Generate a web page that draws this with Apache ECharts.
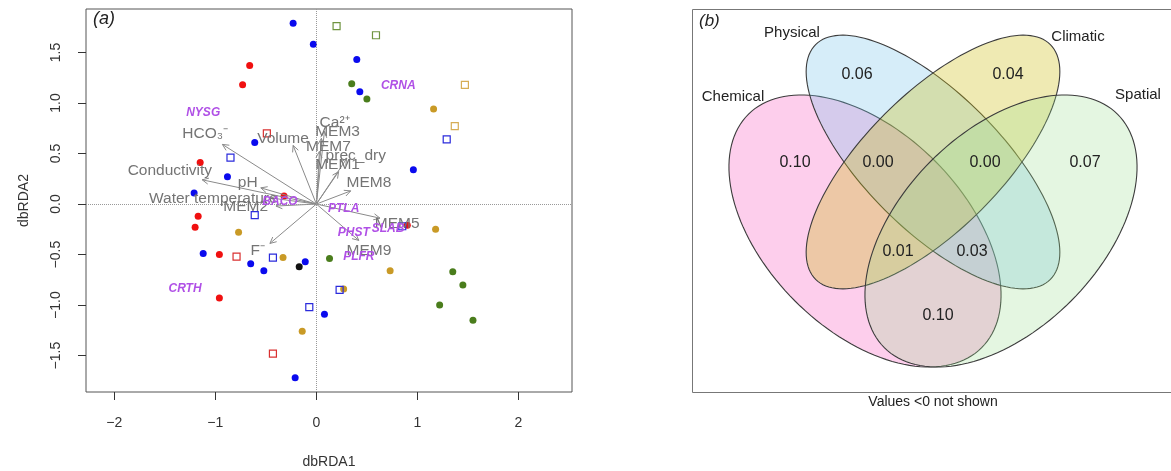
<!DOCTYPE html>
<html>
<head>
<meta charset="utf-8">
<script src="https://cdn.jsdelivr.net/npm/echarts@6/dist/echarts.min.js"></script>
<style>
html,body{margin:0;padding:0;background:#fff}
#main{width:1171px;height:471px}
</style>
</head>
<body>
<div id="main"></div>
<script>
// panel (a): site scores
var blueDots = [[-0.23,1.79],[-0.03,1.58],[-0.61,0.61],[-0.88,0.27],[-1.21,0.11],[-1.12,-0.49],[-0.65,-0.59],[-0.52,-0.66],[-0.11,-0.57],[0.08,-1.09],[-0.21,-1.72],[0.40,1.43],[0.43,1.11],[0.96,0.34]]
var redDots = [[-0.66,1.37],[-0.73,1.18],[-1.15,0.41],[-1.17,-0.12],[-1.20,-0.23],[-0.96,-0.50],[-0.96,-0.93],[-0.32,0.08],[0.90,-0.21]]
var goldDots = [[-0.77,-0.28],[-0.33,-0.53],[-0.14,-1.26],[1.16,0.94],[1.18,-0.25],[0.73,-0.66],[0.27,-0.84]]
var greenDots = [[0.35,1.19],[0.50,1.04],[0.13,-0.54],[1.35,-0.67],[1.45,-0.80],[1.22,-1.00],[1.55,-1.15]]
var blackDots = [[-0.17,-0.62]]
var redSquares = [[-0.49,0.70],[-0.79,-0.52],[-0.43,-1.48]]
var blueSquares = [[-0.85,0.46],[-0.61,-0.11],[-0.43,-0.53],[-0.07,-1.02],[0.23,-0.85],[1.29,0.64],[0.85,-0.22]]
var greenSquares = [[0.20,1.76],[0.59,1.67]]
var goldSquares = [[1.47,1.18],[1.37,0.77]]

// environmental vectors: arrow tips and label spots
var envNames = ['HCO\u2083\u207b','Conductivity','pH','Water temperature','MEM2','F\u207b','Volume','Ca\u00b2\u207a','MEM3','MEM7','prec_dry','MEM1','MEM8','MEM5','MEM9']
var envTips = [[-0.93,0.59],[-1.13,0.24],[-0.55,0.16],[-0.45,0.06],[-0.40,-0.02],[-0.46,-0.39],[-0.23,0.58],[0.08,0.72],[0.05,0.65],[0.03,0.52],[0.30,0.45],[0.22,0.32],[0.34,0.13],[0.63,-0.14],[0.42,-0.36]]
var envLabelAt = [[-1.10,0.70],[-1.45,0.33],[-0.68,0.21],[-1.02,0.05],[-0.70,-0.03],[-0.58,-0.46],[-0.33,0.65],[0.18,0.80],[0.21,0.72],[0.12,0.57],[0.39,0.48],[0.21,0.39],[0.52,0.21],[0.80,-0.19],[0.52,-0.46]]

// species codes
var spNames = ['NYSG','CRNA','CRTH','BACO','PTLA','SLAB','PHST','PLFR']
var spAt = [[-1.12,0.90],[0.81,1.17],[-1.30,-0.84],[-0.36,0.02],[0.27,-0.05],[0.71,-0.24],[0.37,-0.28],[0.42,-0.52]]

var xTicks = [-2,-1,0,1,2]
var yTicks = [-1.5,-1.0,-0.5,0.0,0.5,1.0,1.5]

// panel (b): venn ellipses [cx, cy, a, b, angle]
var vennSets = ['Chemical','Physical','Climatic','Spatial']
var vennEllipses = [[1.73,1.61,1.65,0.99,-45],[2.41,2.30,1.66,0.68,-45],[2.41,2.30,1.66,0.68,45],[3.09,1.61,1.65,0.99,45]]
var vennFills = ['rgba(250,110,200,0.34)','rgba(120,195,235,0.30)','rgba(205,190,20,0.32)','rgba(150,220,140,0.26)']
var vennSetLabelAt = [[0.41,2.95],[1.00,3.59],[3.86,3.55],[4.46,2.97]]
var vennValues = ['0.06','0.04','0.10','0.00','0.00','0.07','0.01','0.03','0.10']
var vennValueAt = [[1.65,3.17],[3.16,3.17],[1.03,2.29],[1.86,2.29],[2.93,2.29],[3.93,2.29],[2.06,1.40],[2.80,1.40],[2.46,0.76]]

var font = 'Liberation Sans, Arial, sans-serif'
var minus = function(v, d){ return (v < 0 ? '\u2212' : '') + Math.abs(v).toFixed(d) }

function dots(data, color){
    return {type:'scatter', xAxisIndex:0, yAxisIndex:0, data:data, symbol:'circle', symbolSize:7,
        itemStyle:{color:color, opacity:1}, silent:true}
}
function squares(data, color){
    return {type:'scatter', xAxisIndex:0, yAxisIndex:0, data:data, symbol:'rect', symbolSize:7,
        itemStyle:{color:'rgba(0,0,0,0)', borderColor:color, borderWidth:1.2, opacity:1}, silent:true}
}
function textSeries(xi, data, names, style){
    return {
        type:'custom', xAxisIndex:xi, yAxisIndex:xi, data:data, silent:true, z:5,
        renderItem: function(params, api){
            var p = api.coord([api.value(0), api.value(1)])
            return {type:'text', x:p[0], y:p[1], style:Object.assign({text:names[params.dataIndex], align:'center', verticalAlign:'middle', fontFamily:font}, style)}
        }
    }
}

var chartDom = document.getElementById('main')
var myChart = echarts.init(chartDom)

var blueSeries = dots(blueDots, '#0a0aee')
blueSeries.markLine = {
    silent:true, symbol:'none', label:{show:false},
    lineStyle:{type:'dotted', color:'#999', width:1},
    data:[{xAxis:0},{yAxis:0}]
}

var option = {
    animation:false,
    grid:[
        {left:86, top:9, width:486, height:383, show:true, borderColor:'#555', borderWidth:1, outerBoundsMode:'none', containLabel:false},
        {left:692, top:9, width:479, height:383, show:false, outerBoundsMode:'none', containLabel:false}
    ],
    xAxis:[
        {gridIndex:0, type:'value', min:-2.28, max:2.53,
            axisLine:{show:false, onZero:false}, splitLine:{show:false},
            axisTick:{show:true, length:8, lineStyle:{color:'#333'}, customValues:xTicks},
            axisLabel:{customValues:xTicks, margin:24, fontSize:14, color:'#333', fontFamily:font,
                formatter:function(v){ return minus(v,0) }},
            name:'dbRDA1', nameLocation:'middle', nameGap:63,
            nameTextStyle:{fontSize:14, color:'#333', fontFamily:font}},
        {gridIndex:1, type:'value', min:0, max:4.79, show:false}
    ],
    yAxis:[
        {gridIndex:0, type:'value', min:-1.86, max:1.93,
            axisLine:{show:false, onZero:false}, splitLine:{show:false},
            axisTick:{show:true, length:8, lineStyle:{color:'#333'}, customValues:yTicks},
            axisLabel:{customValues:yTicks, margin:23, rotate:90, fontSize:14, color:'#333', fontFamily:font,
                formatter:function(v){ return minus(v,1) }},
            name:'dbRDA2', nameLocation:'middle', nameGap:55,
            nameTextStyle:{fontSize:14, color:'#333', fontFamily:font}},
        {gridIndex:1, type:'value', min:0, max:3.83, show:false}
    ],
    graphic:[
        {type:'polyline', silent:true, shape:{points:[[1190,9.5],[692.5,9.5],[692.5,392.5],[1190,392.5]]}, style:{stroke:'#777', lineWidth:1, fill:null}},
        {type:'text', x:93, y:10, style:{text:'(a)', fontSize:18, fontStyle:'italic', fontFamily:font, fill:'#222'}},
        {type:'text', x:699, y:13, style:{text:'(b)', fontSize:17, fontStyle:'italic', fontFamily:font, fill:'#222'}},
        {type:'text', x:933, y:402, style:{text:'Values <0 not shown', fontSize:14, fontFamily:font, fill:'#222', align:'center', verticalAlign:'middle'}}
    ],
    series:[
        blueSeries,
        dots(redDots, '#f01010'),
        dots(goldDots, '#c99a26'),
        dots(greenDots, '#4a7d1c'),
        dots(blackDots, '#111'),
        squares(redSquares, '#d93030'),
        squares(blueSquares, '#2b2bdc'),
        squares(greenSquares, '#6f9440'),
        squares(goldSquares, '#d6ad55'),
        {
            type:'custom', xAxisIndex:0, yAxisIndex:0, data:envTips, silent:true, z:3,
            renderItem:function(params, api){
                var o = api.coord([0,0])
                var e = api.coord([api.value(0), api.value(1)])
                var ang = Math.atan2(e[1]-o[1], e[0]-o[0])
                var h = 7, s = 0.45
                var p1 = [e[0]-h*Math.cos(ang-s), e[1]-h*Math.sin(ang-s)]
                var p2 = [e[0]-h*Math.cos(ang+s), e[1]-h*Math.sin(ang+s)]
                return {type:'group', children:[
                    {type:'line', shape:{x1:o[0], y1:o[1], x2:e[0], y2:e[1]}, style:{stroke:'#8a8a8a', lineWidth:1}},
                    {type:'polyline', shape:{points:[p1, e, p2]}, style:{stroke:'#8a8a8a', lineWidth:1, fill:null}}
                ]}
            }
        },
        textSeries(0, envLabelAt, envNames, {fill:'#747474', fontSize:15.5}),
        textSeries(0, spAt, spNames, {fill:'#b050e6', fontSize:12, fontWeight:'bold', fontStyle:'italic'}),
        {
            type:'custom', xAxisIndex:1, yAxisIndex:1, data:vennEllipses, silent:true,
            renderItem:function(params, api){
                var cx = api.value(0), cy = api.value(1), a = api.value(2), b = api.value(3)
                var ang = api.value(4)*Math.PI/180
                var pts = []
                for (var i = 0; i < 144; i++){
                    var t = i/144*2*Math.PI
                    var x = cx + a*Math.cos(t)*Math.cos(ang) - b*Math.sin(t)*Math.sin(ang)
                    var y = cy + a*Math.cos(t)*Math.sin(ang) + b*Math.sin(t)*Math.cos(ang)
                    pts.push(api.coord([x, y]))
                }
                return {type:'polygon', shape:{points:pts}, style:{fill:vennFills[params.dataIndex], stroke:'#3c3c3c', lineWidth:1.1}}
            }
        },
        textSeries(1, vennSetLabelAt, vennSets, {fill:'#222', fontSize:15}),
        textSeries(1, vennValueAt, vennValues, {fill:'#222', fontSize:16})
    ]
}
myChart.setOption(option)
</script>
</body>
</html>
